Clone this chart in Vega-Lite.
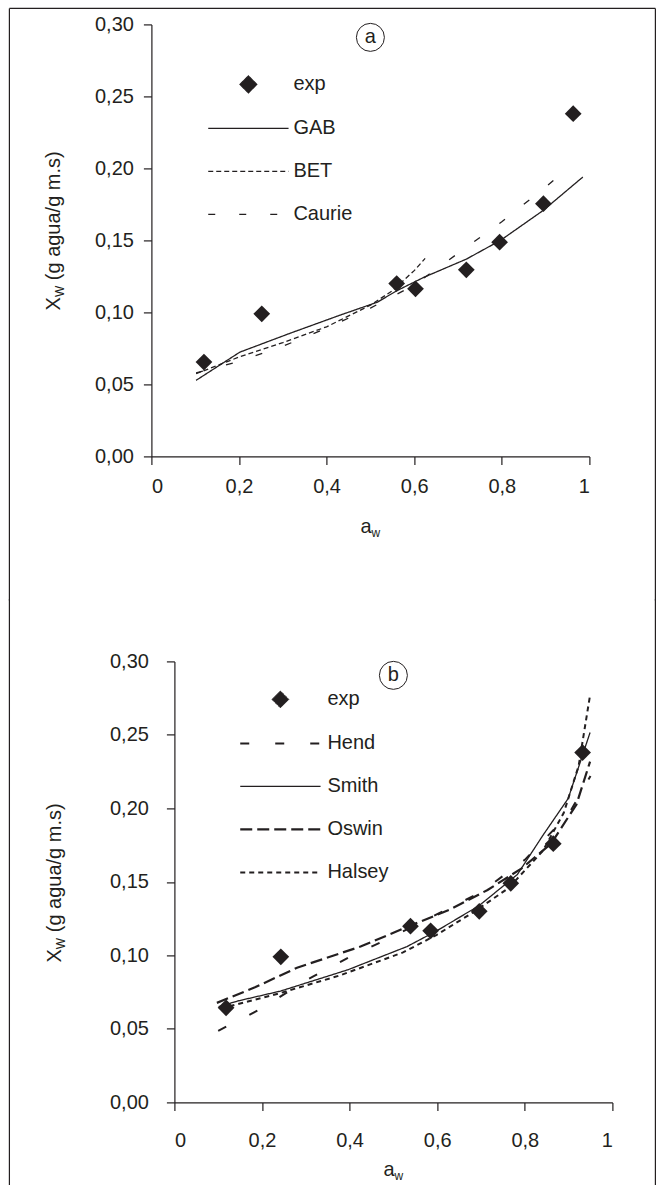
{
  "$schema": "https://vega.github.io/schema/vega-lite/v6.json",
  "background": "white",
  "padding": {"left": 8.4, "top": 7.4, "right": 8, "bottom": 0},
  "spacing": -3,
  "columns": 1,
  "align": "none",
  "datasets": {
    "iso": [
      {"panel": "a", "model": "exp", "aw": 0.120, "xw": 0.0655},
      {"panel": "a", "model": "exp", "aw": 0.252, "xw": 0.099},
      {"panel": "a", "model": "exp", "aw": 0.560, "xw": 0.120},
      {"panel": "a", "model": "exp", "aw": 0.603, "xw": 0.1164},
      {"panel": "a", "model": "exp", "aw": 0.719, "xw": 0.1296},
      {"panel": "a", "model": "exp", "aw": 0.795, "xw": 0.1488},
      {"panel": "a", "model": "exp", "aw": 0.895, "xw": 0.1755},
      {"panel": "a", "model": "exp", "aw": 0.963, "xw": 0.238},
      {"panel": "a", "model": "GAB", "aw": 0.102, "xw": 0.0528},
      {"panel": "a", "model": "GAB", "aw": 0.202, "xw": 0.0724},
      {"panel": "a", "model": "GAB", "aw": 0.313, "xw": 0.0851},
      {"panel": "a", "model": "GAB", "aw": 0.429, "xw": 0.0979},
      {"panel": "a", "model": "GAB", "aw": 0.516, "xw": 0.1071},
      {"panel": "a", "model": "GAB", "aw": 0.560, "xw": 0.115},
      {"panel": "a", "model": "GAB", "aw": 0.623, "xw": 0.1245},
      {"panel": "a", "model": "GAB", "aw": 0.719, "xw": 0.137},
      {"panel": "a", "model": "GAB", "aw": 0.797, "xw": 0.150},
      {"panel": "a", "model": "GAB", "aw": 0.894, "xw": 0.1707},
      {"panel": "a", "model": "GAB", "aw": 0.985, "xw": 0.194},
      {"panel": "a", "model": "BET", "aw": 0.102, "xw": 0.0574},
      {"panel": "a", "model": "BET", "aw": 0.2, "xw": 0.069},
      {"panel": "a", "model": "BET", "aw": 0.3, "xw": 0.079},
      {"panel": "a", "model": "BET", "aw": 0.4, "xw": 0.090},
      {"panel": "a", "model": "BET", "aw": 0.5, "xw": 0.105},
      {"panel": "a", "model": "BET", "aw": 0.55, "xw": 0.115},
      {"panel": "a", "model": "BET", "aw": 0.6, "xw": 0.129},
      {"panel": "a", "model": "BET", "aw": 0.625, "xw": 0.1375},
      {"panel": "a", "model": "Caurie", "aw": 0.102, "xw": 0.058},
      {"panel": "a", "model": "Caurie", "aw": 0.2, "xw": 0.066},
      {"panel": "a", "model": "Caurie", "aw": 0.3, "xw": 0.0765},
      {"panel": "a", "model": "Caurie", "aw": 0.4, "xw": 0.089},
      {"panel": "a", "model": "Caurie", "aw": 0.5, "xw": 0.103},
      {"panel": "a", "model": "Caurie", "aw": 0.6, "xw": 0.119},
      {"panel": "a", "model": "Caurie", "aw": 0.7, "xw": 0.141},
      {"panel": "a", "model": "Caurie", "aw": 0.8, "xw": 0.163},
      {"panel": "a", "model": "Caurie", "aw": 0.9, "xw": 0.187},
      {"panel": "a", "model": "Caurie", "aw": 0.95, "xw": 0.2},
      {"panel": "b", "model": "exp", "aw": 0.118, "xw": 0.0643},
      {"panel": "b", "model": "exp", "aw": 0.243, "xw": 0.099},
      {"panel": "b", "model": "exp", "aw": 0.539, "xw": 0.1199},
      {"panel": "b", "model": "exp", "aw": 0.585, "xw": 0.1167},
      {"panel": "b", "model": "exp", "aw": 0.696, "xw": 0.130},
      {"panel": "b", "model": "exp", "aw": 0.768, "xw": 0.149},
      {"panel": "b", "model": "exp", "aw": 0.865, "xw": 0.176},
      {"panel": "b", "model": "exp", "aw": 0.932, "xw": 0.238},
      {"panel": "b", "model": "Hend", "aw": 0.1, "xw": 0.0487},
      {"panel": "b", "model": "Hend", "aw": 0.2, "xw": 0.064},
      {"panel": "b", "model": "Hend", "aw": 0.3, "xw": 0.083},
      {"panel": "b", "model": "Hend", "aw": 0.4, "xw": 0.099},
      {"panel": "b", "model": "Hend", "aw": 0.5, "xw": 0.113},
      {"panel": "b", "model": "Hend", "aw": 0.6, "xw": 0.128},
      {"panel": "b", "model": "Hend", "aw": 0.7, "xw": 0.143},
      {"panel": "b", "model": "Hend", "aw": 0.8, "xw": 0.165},
      {"panel": "b", "model": "Hend", "aw": 0.9, "xw": 0.196},
      {"panel": "b", "model": "Hend", "aw": 0.95, "xw": 0.222},
      {"panel": "b", "model": "Smith", "aw": 0.101, "xw": 0.0651},
      {"panel": "b", "model": "Smith", "aw": 0.145, "xw": 0.069},
      {"panel": "b", "model": "Smith", "aw": 0.242, "xw": 0.0757},
      {"panel": "b", "model": "Smith", "aw": 0.396, "xw": 0.0902},
      {"panel": "b", "model": "Smith", "aw": 0.531, "xw": 0.106},
      {"panel": "b", "model": "Smith", "aw": 0.599, "xw": 0.1167},
      {"panel": "b", "model": "Smith", "aw": 0.696, "xw": 0.1339},
      {"panel": "b", "model": "Smith", "aw": 0.783, "xw": 0.155},
      {"panel": "b", "model": "Smith", "aw": 0.841, "xw": 0.1815},
      {"panel": "b", "model": "Smith", "aw": 0.899, "xw": 0.2067},
      {"panel": "b", "model": "Smith", "aw": 0.949, "xw": 0.2516},
      {"panel": "b", "model": "Oswin", "aw": 0.097, "xw": 0.0677},
      {"panel": "b", "model": "Oswin", "aw": 0.184, "xw": 0.0783},
      {"panel": "b", "model": "Oswin", "aw": 0.280, "xw": 0.0916},
      {"panel": "b", "model": "Oswin", "aw": 0.425, "xw": 0.106},
      {"panel": "b", "model": "Oswin", "aw": 0.536, "xw": 0.1199},
      {"panel": "b", "model": "Oswin", "aw": 0.628, "xw": 0.131},
      {"panel": "b", "model": "Oswin", "aw": 0.715, "xw": 0.1445},
      {"panel": "b", "model": "Oswin", "aw": 0.792, "xw": 0.159},
      {"panel": "b", "model": "Oswin", "aw": 0.860, "xw": 0.176},
      {"panel": "b", "model": "Oswin", "aw": 0.918, "xw": 0.2027},
      {"panel": "b", "model": "Oswin", "aw": 0.949, "xw": 0.2318},
      {"panel": "b", "model": "Halsey", "aw": 0.106, "xw": 0.0638},
      {"panel": "b", "model": "Halsey", "aw": 0.242, "xw": 0.0744},
      {"panel": "b", "model": "Halsey", "aw": 0.377, "xw": 0.0863},
      {"panel": "b", "model": "Halsey", "aw": 0.522, "xw": 0.102},
      {"panel": "b", "model": "Halsey", "aw": 0.599, "xw": 0.114},
      {"panel": "b", "model": "Halsey", "aw": 0.686, "xw": 0.130},
      {"panel": "b", "model": "Halsey", "aw": 0.763, "xw": 0.1458},
      {"panel": "b", "model": "Halsey", "aw": 0.841, "xw": 0.171},
      {"panel": "b", "model": "Halsey", "aw": 0.889, "xw": 0.197},
      {"panel": "b", "model": "Halsey", "aw": 0.923, "xw": 0.229},
      {"panel": "b", "model": "Halsey", "aw": 0.949, "xw": 0.277}
    ]
  },
  "resolve": {
    "scale": {"strokeDash": "independent", "shape": "independent", "strokeWidth": "independent"},
    "legend": {"strokeDash": "independent", "shape": "independent", "strokeWidth": "independent"}
  },
  "concat": [
    {
      "width": 438,
      "height": 432,
      "layer": [
        {
          "data": {"name": "iso"},
          "transform": [{"filter": "datum.panel == 'a' && datum.model != 'exp'"}],
          "mark": {"type": "line", "color": "#231f20", "strokeWidth": 1.3, "strokeCap": "butt"},
          "encoding": {
            "x": {"field": "aw", "type": "quantitative", "scale": {"domain": [0, 1], "nice": false},
                  "axis": {"title": null, "values": [0, 0.2, 0.4, 0.6, 0.8, 1], "format": "~g", "labelExpr": "replace(datum.label, '.', ',')", "labelPadding": 12}},
            "y": {"field": "xw", "type": "quantitative", "scale": {"domain": [0, 0.3], "nice": false},
                  "axis": {"title": null, "values": [0, 0.05, 0.1, 0.15, 0.2, 0.25, 0.3], "format": ".2f", "labelExpr": "replace(datum.label, '.', ',')", "labelPadding": 10}},
            "strokeDash": {"field": "model", "type": "nominal",
                           "scale": {"domain": ["exp", "GAB", "BET", "Caurie"], "range": [[1, 0], [1, 0], [5, 3], [7, 24]]},
                           "legend": {"title": null, "orient": "none", "legendX": 55, "legendY": 50, "labelOffset": 35, "symbolOffset": 32,
                                      "encode": {"symbols": {"update": {"stroke": {"value": "#231f20"}, "strokeWidth": {"value": 1.3}}}}}}
          }
        },
        {
          "data": {"name": "iso"},
          "transform": [{"filter": "datum.panel == 'a' && datum.model == 'exp'"}],
          "mark": {"type": "point", "filled": true, "color": "#231f20", "opacity": 1, "size": 280},
          "encoding": {
            "x": {"field": "aw", "type": "quantitative"},
            "y": {"field": "xw", "type": "quantitative"},
            "shape": {"field": "model", "type": "nominal",
                      "scale": {"domain": ["exp", "GAB", "BET", "Caurie"], "range": ["diamond", "M-4.8,0H4.8", "M-4.8,0H4.8", "M-4.8,0H4.8"]},
                      "legend": {"title": null, "orient": "none", "legendX": 55, "legendY": 50, "labelOffset": 35, "symbolOffset": 32,
                                 "encode": {"symbols": {"update": {"stroke": {"value": "#231f20"}, "strokeWidth": {"value": 1.3}}}}}}
          }
        },
        {
          "data": {"values": [{}]},
          "mark": {"type": "rule", "color": "#231f20", "strokeWidth": 1.2},
          "encoding": {"x": {"datum": -0.3242}, "x2": {"datum": 1.1507}, "y": {"datum": 0.3111}}
        },
        {
          "data": {"values": [{}]},
          "mark": {"type": "rule", "color": "#231f20", "strokeWidth": 1.2},
          "encoding": {"x": {"datum": -0.3242}, "y": {"datum": 0.3111}, "y2": {"datum": -0.1}}
        },
        {
          "data": {"values": [{}]},
          "mark": {"type": "rule", "color": "#231f20", "strokeWidth": 1.2},
          "encoding": {"x": {"datum": 1.1507}, "y": {"datum": 0.3111}, "y2": {"datum": -0.1}}
        },
        {
          "data": {"values": [{}]},
          "mark": {"type": "point", "shape": "circle", "filled": false, "color": "#231f20", "opacity": 1, "size": 784, "strokeWidth": 1},
          "encoding": {"x": {"datum": 0.5}, "y": {"datum": 0.291}}
        },
        {
          "data": {"values": [{}]},
          "mark": {"type": "text", "text": "a", "fontSize": 20, "align": "center", "baseline": "middle", "color": "#231f20"},
          "encoding": {"x": {"datum": 0.5}, "y": {"datum": 0.291}}
        },
        {
          "data": {"values": [{}]},
          "mark": {"type": "text", "text": "X", "fontSize": 20, "align": "left", "baseline": "alphabetic", "angle": 270, "color": "#231f20"},
          "encoding": {"x": {"datum": -0.208}, "y": {"datum": 0.1014}}
        },
        {
          "data": {"values": [{}]},
          "mark": {"type": "text", "text": "W", "fontSize": 12, "align": "left", "baseline": "alphabetic", "angle": 270, "dx": 13.3, "dy": 4, "color": "#231f20"},
          "encoding": {"x": {"datum": -0.208}, "y": {"datum": 0.1014}}
        },
        {
          "data": {"values": [{}]},
          "mark": {"type": "text", "text": "(g agua/g m.s)", "fontSize": 20, "align": "left", "baseline": "alphabetic", "angle": 270, "dx": 30.2, "color": "#231f20"},
          "encoding": {"x": {"datum": -0.208}, "y": {"datum": 0.1014}}
        },
        {
          "data": {"values": [{}]},
          "mark": {"type": "text", "text": "a", "fontSize": 20, "align": "right", "baseline": "alphabetic", "color": "#231f20"},
          "encoding": {"x": {"datum": 0.5027}, "y": {"datum": -0.0535}}
        },
        {
          "data": {"values": [{}]},
          "mark": {"type": "text", "text": "w", "fontSize": 12, "align": "left", "baseline": "alphabetic", "dy": 4, "color": "#231f20"},
          "encoding": {"x": {"datum": 0.5027}, "y": {"datum": -0.0535}}
        }
      ]
    },
    {
      "width": 461,
      "height": 441,
      "layer": [
        {
          "data": {"name": "iso"},
          "transform": [{"filter": "datum.panel == 'b' && datum.model != 'exp'"}],
          "mark": {"type": "line", "color": "#231f20", "strokeCap": "butt"},
          "encoding": {
            "x": {"field": "aw", "type": "quantitative", "scale": {"domain": [0, 1], "nice": false, "range": [23, 461]},
                  "axis": {"title": null, "values": [0, 0.2, 0.4, 0.6, 0.8, 1], "format": "~g", "labelExpr": "replace(datum.label, '.', ',')", "labelPadding": 20}},
            "y": {"field": "xw", "type": "quantitative", "scale": {"domain": [0, 0.3], "nice": false},
                  "axis": {"title": null, "offset": -23, "values": [0, 0.05, 0.1, 0.15, 0.2, 0.25, 0.3], "format": ".2f", "labelExpr": "replace(datum.label, '.', ',')", "labelPadding": 18}},
            "strokeDash": {"field": "model", "type": "nominal",
                           "scale": {"domain": ["exp", "Hend", "Smith", "Oswin", "Halsey"], "range": [[1, 0], [9, 26], [1, 0], [12, 5], [5, 4]]},
                           "legend": {"title": null, "orient": "none", "legendX": 87, "legendY": 28, "labelOffset": 37, "symbolOffset": 32,
                                      "encode": {"symbols": {"update": {"stroke": {"value": "#231f20"}}}}}},
            "strokeWidth": {"field": "model", "type": "nominal",
                            "scale": {"type": "ordinal", "domain": ["exp", "Hend", "Smith", "Oswin", "Halsey"], "range": [1, 2, 1.3, 2.2, 2]},
                            "legend": {"title": null, "orient": "none", "legendX": 87, "legendY": 28, "labelOffset": 37, "symbolOffset": 32,
                                       "encode": {"symbols": {"update": {"stroke": {"value": "#231f20"}}}}}}
          }
        },
        {
          "data": {"name": "iso"},
          "transform": [{"filter": "datum.panel == 'b' && datum.model == 'exp'"}],
          "mark": {"type": "point", "filled": true, "color": "#231f20", "opacity": 1, "size": 280},
          "encoding": {
            "x": {"field": "aw", "type": "quantitative"},
            "y": {"field": "xw", "type": "quantitative"},
            "shape": {"field": "model", "type": "nominal",
                      "scale": {"domain": ["exp", "Hend", "Smith", "Oswin", "Halsey"], "range": ["diamond", "M-4.8,0H4.8", "M-4.8,0H4.8", "M-4.8,0H4.8", "M-4.8,0H4.8"]},
                      "legend": {"title": null, "orient": "none", "legendX": 87, "legendY": 28, "labelOffset": 37, "symbolOffset": 32,
                                 "encode": {"symbols": {"update": {"stroke": {"value": "#231f20"}}}}}}
          }
        },
        {
          "data": {"values": [{}]},
          "mark": {"type": "rule", "color": "#231f20", "strokeWidth": 1.2},
          "encoding": {"x": {"datum": -0.3767}, "y": {"datum": 0.3422}, "y2": {"datum": -0.07}}
        },
        {
          "data": {"values": [{}]},
          "mark": {"type": "rule", "color": "#231f20", "strokeWidth": 1.2},
          "encoding": {"x": {"datum": 1.0982}, "y": {"datum": 0.3422}, "y2": {"datum": -0.07}}
        },
        {
          "data": {"values": [{}]},
          "mark": {"type": "point", "shape": "circle", "filled": false, "color": "#231f20", "opacity": 1, "size": 784, "strokeWidth": 1},
          "encoding": {"x": {"datum": 0.5}, "y": {"datum": 0.2905}}
        },
        {
          "data": {"values": [{}]},
          "mark": {"type": "text", "text": "b", "fontSize": 20, "align": "center", "baseline": "middle", "color": "#231f20"},
          "encoding": {"x": {"datum": 0.5}, "y": {"datum": 0.2905}}
        },
        {
          "data": {"values": [{}]},
          "mark": {"type": "text", "text": "X", "fontSize": 20, "align": "left", "baseline": "alphabetic", "angle": 270, "color": "#231f20"},
          "encoding": {"x": {"datum": -0.26}, "y": {"datum": 0.0952}}
        },
        {
          "data": {"values": [{}]},
          "mark": {"type": "text", "text": "W", "fontSize": 12, "align": "left", "baseline": "alphabetic", "angle": 270, "dx": 13.3, "dy": 4, "color": "#231f20"},
          "encoding": {"x": {"datum": -0.26}, "y": {"datum": 0.0952}}
        },
        {
          "data": {"values": [{}]},
          "mark": {"type": "text", "text": "(g agua/g m.s)", "fontSize": 20, "align": "left", "baseline": "alphabetic", "angle": 270, "dx": 30.2, "color": "#231f20"},
          "encoding": {"x": {"datum": -0.26}, "y": {"datum": 0.0952}}
        },
        {
          "data": {"values": [{}]},
          "mark": {"type": "text", "text": "a", "fontSize": 20, "align": "right", "baseline": "alphabetic", "color": "#231f20"},
          "encoding": {"x": {"datum": 0.5027}, "y": {"datum": -0.0503}}
        },
        {
          "data": {"values": [{}]},
          "mark": {"type": "text", "text": "w", "fontSize": 12, "align": "left", "baseline": "alphabetic", "dy": 4, "color": "#231f20"},
          "encoding": {"x": {"datum": 0.5027}, "y": {"datum": -0.0503}}
        }
      ]
    }
  ],
  "config": {
    "font": "Liberation Sans",
    "view": {"stroke": null},
    "axis": {
      "grid": false,
      "domainColor": "#231f20",
      "tickColor": "#231f20",
      "domainWidth": 1.2,
      "tickWidth": 1.2,
      "tickSize": 8,
      "labelFont": "Liberation Sans",
      "labelFontSize": 20,
      "labelColor": "#231f20"
    },
    "legend": {
      "labelFont": "Liberation Sans",
      "labelFontSize": 20,
      "labelColor": "#231f20",
      "labelLimit": 300,
      "symbolSize": 280,
      "symbolStrokeColor": "#231f20",
      "symbolFillColor": "#231f20",
      "symbolStrokeWidth": 1.3,
      "rowPadding": 23,
      "padding": 0
    },
    "text": {"font": "Liberation Sans"}
  }
}
